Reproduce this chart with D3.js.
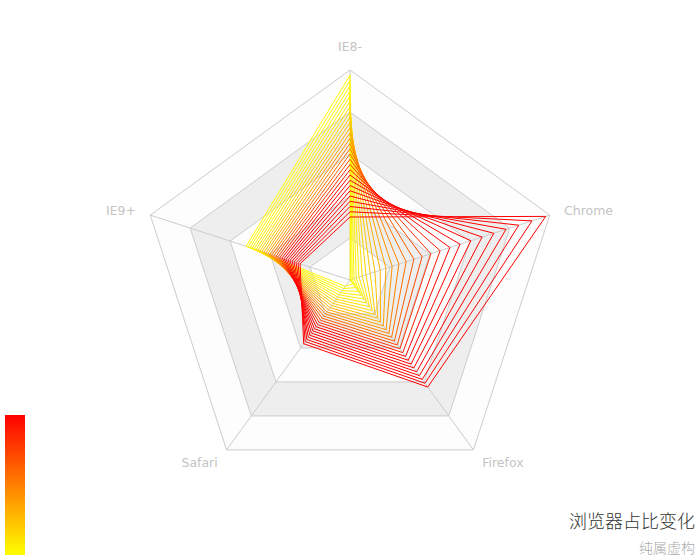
<!DOCTYPE html>
<html><head><meta charset="utf-8">
<script src="https://cdn.jsdelivr.net/npm/d3@7/dist/d3.min.js"></script>
<style>html,body{margin:0;padding:0;background:#fff;}svg{display:block;}</style>
</head><body>
<svg id="chart" width="700" height="560"></svg>
<script>
const indicators = ["IE8-", "IE9+", "Safari", "Firefox", "Chrome"];
const indicatorMax = [400, 400, 400, 400, 400];
const years = ["2001","2002","2003","2004","2005","2006","2007","2008","2009","2010","2011","2012","2013","2014","2015","2016","2017","2018","2019","2020","2021","2022","2023","2024","2025","2026","2027","2028"];
const ie8 = [390,380,370,360,350,340,330,320,310,300,290,280,270,260,250,240,230,220,210,200,190,180,170,160,150,140,130,120];
const ie9 = [208,204,200,196,192,188,184,180,176,172,168,164,160,156,152,148,144,140,136,132,128,124,120,116,112,108,104,100];
const safari = [15,20,25,30,35,40,45,50,55,60,65,70,75,80,85,90,95,100,105,110,115,120,125,130,135,140,145,150];
const firefox = [9,18,27,36,45,54,63,72,81,90,99,108,117,126,135,144,153,162,171,180,189,198,207,216,225,234,243,252];
const chrome = [0.5,2,4.5,8,12.5,18,24.5,32,40.5,50,60.5,72,84.5,98,112.5,128,144.5,162,180.5,200,220.5,242,264.5,288,312.5,338,364.5,392];
const visualRange = [0, 200];
const visualColors = ["yellow", "red"];
const title = "浏览器占比变化";
const subtitle = "纯属虚构";

const W = 700, H = 560;
const cx = W / 2, cy = H / 2, R = Math.min(W, H) / 2 * 0.75;
const svg = d3.select("#chart");
const n = indicators.length;
const angle = i => Math.PI / 2 + i * 2 * Math.PI / n;
const rScales = indicatorMax.map(m => d3.scaleLinear().domain([0, m]).range([0, R]));
const pt = (i, r) => [cx + r * Math.cos(angle(i)), cy - r * Math.sin(angle(i))];

// split areas
const splits = 5;
const g = svg.append("g");
for (let s = splits; s >= 1; s--) {
  const r = R * s / splits;
  const poly = d3.range(n).map(i => pt(i, r));
  g.append("path")
    .attr("d", d3.line()(poly) + "Z")
    .attr("fill", (s - 1) % 2 === 0 ? "#fdfdfd" : "#eeeeee")
    .attr("stroke", "none");
}
for (let s = 1; s <= splits; s++) {
  const r = R * s / splits;
  const poly = d3.range(n).map(i => pt(i, r));
  g.append("path").attr("d", d3.line()(poly) + "Z")
    .attr("fill", "none").attr("stroke", "#cccccc").attr("stroke-width", 1);
}
d3.range(n).forEach(i => {
  const p = pt(i, R);
  g.append("line").attr("x1", cx).attr("y1", cy).attr("x2", p[0]).attr("y2", p[1])
    .attr("stroke", "#cccccc").attr("stroke-width", 1);
});

// labels
d3.range(n).forEach(i => {
  const a = angle(i);
  const p = pt(i, R + 15);
  const c = Math.cos(a), s = Math.sin(a);
  const anchor = c > 0.1 ? "start" : (c < -0.1 ? "end" : "middle");
  const t = svg.append("text").attr("x", p[0]).attr("y", p[1])
    .attr("text-anchor", anchor)
    .attr("font-family", "'DejaVu Sans', sans-serif")
    .attr("font-size", 12.5).attr("fill", "#c4c4c4")
    .text(indicators[i]);
  if (s > 0.9) t.attr("dy", "-0.3em"); else t.attr("dominant-baseline", "central");
});

// series
const color = d3.scaleLinear().domain(visualRange).range(visualColors).clamp(true).interpolate(d3.interpolateRgb);
const series = years.map((y, k) => ({ name: y, values: [ie8[k], ie9[k], safari[k], firefox[k], chrome[k]] }));
const line = d3.line();
svg.append("g").selectAll("path").data(series).join("path")
  .attr("d", d => line(d.values.map((v, i) => pt(i, rScales[i](v)))) + "Z")
  .attr("fill", "none")
  .attr("stroke", d => color(d.values[n - 1]))
  .attr("stroke-width", 1);

// visual map bar
const defs = svg.append("defs");
const grad = defs.append("linearGradient").attr("id", "vm").attr("x1", 0).attr("y1", 1).attr("x2", 0).attr("y2", 0);
grad.append("stop").attr("offset", "0%").attr("stop-color", visualColors[0]);
grad.append("stop").attr("offset", "100%").attr("stop-color", visualColors[1]);
svg.append("rect").attr("x", 5).attr("y", 415).attr("width", 20).attr("height", 140).attr("fill", "url(#vm)");

// title
svg.append("text").attr("x", 695).attr("y", 528).attr("text-anchor", "end")
  .attr("font-family", "'Noto Sans CJK SC', sans-serif").attr("font-size", 18).attr("font-weight", 300)
  .attr("fill", "#333").text(title);
svg.append("text").attr("x", 695).attr("y", 553).attr("text-anchor", "end")
  .attr("font-family", "'Noto Sans CJK SC', sans-serif").attr("font-size", 14).attr("font-weight", 300)
  .attr("fill", "#aaa").text(subtitle);
</script>
</body></html>
